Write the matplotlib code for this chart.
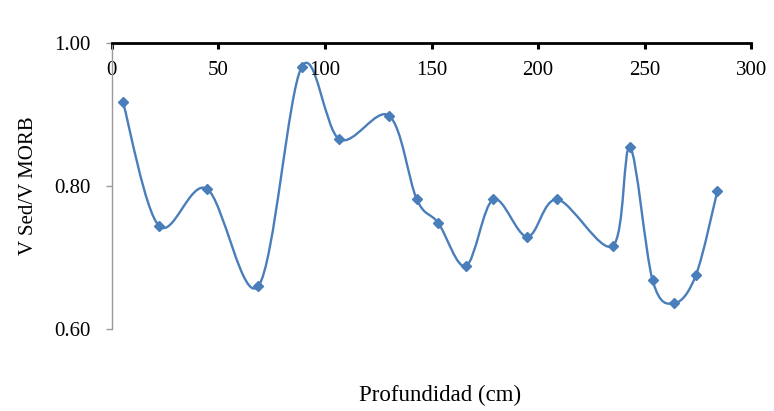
import matplotlib
matplotlib.use("Agg")
import matplotlib.pyplot as plt
import numpy as np
from matplotlib.path import Path
from matplotlib.patches import PathPatch

plt.rcParams['font.family'] = ['Liberation Serif', 'DejaVu Serif']

# Depth (cm) and V Sed / V MORB ratio
profundidad = [5.3, 22.2, 44.6, 68.8, 89.1, 106.8, 130.1, 143.1, 153.2, 166.2,
               179.0, 194.9, 209.0, 235.0, 243.1, 253.7, 263.9, 274.1, 284.1]
v_ratio = [0.917, 0.744, 0.796, 0.660, 0.966, 0.865, 0.898, 0.781, 0.748, 0.688,
           0.781, 0.729, 0.781, 0.716, 0.854, 0.668, 0.636, 0.676, 0.793]

x_ticks = [0, 50, 100, 150, 200, 250, 300]
y_ticks = [0.60, 0.80, 1.00]
color = '#4A7EBB'


def smooth_path(xs, ys):
    """Cubic Bezier path through the points (Catmull-Rom style smoothing)."""
    pts = np.column_stack([xs, ys])
    n = len(pts)
    verts = [pts[0]]
    codes = [Path.MOVETO]
    for i in range(n - 1):
        p0 = pts[i - 1] if i > 0 else pts[i]
        p1 = pts[i]
        p2 = pts[i + 1]
        p3 = pts[i + 2] if i + 2 < n else pts[i + 1]
        c1 = p1 + (p2 - p0) / 6.0
        c2 = p2 - (p3 - p1) / 6.0
        verts += [c1, c2, p2]
        codes += [Path.CURVE4] * 3
    return Path(verts, codes)


fig = plt.figure(figsize=(7.74, 4.11), dpi=100)
ax = fig.add_axes([0.1443, 0.1995, 0.8264, 0.6966])

ax.add_patch(PathPatch(smooth_path(profundidad, v_ratio), fill=False,
                       edgecolor=color, linewidth=1.7, capstyle='round'))
ax.plot(profundidad, v_ratio, linestyle='none', marker='D', markersize=4.6,
        color=color)

ax.set_xlim(0, 300)
ax.set_ylim(0.60, 1.00)
ax.set_xticks(x_ticks)
ax.set_xticklabels([str(t) for t in x_ticks])
ax.set_yticks(y_ticks)
ax.set_yticklabels([f"{t:.2f}" for t in y_ticks])

# Horizontal axis drawn along the top edge (y = 1.00), labels underneath
ax.spines['bottom'].set_position(('data', 1.00))
ax.spines['bottom'].set_linewidth(2.0)
ax.spines['bottom'].set_color('black')
ax.spines['top'].set_visible(False)
ax.spines['right'].set_visible(False)
ax.spines['left'].set_color('#9a9a9a')
ax.spines['left'].set_linewidth(1.0)

ax.tick_params(axis='x', direction='out', length=4, width=2.2, color='black',
               pad=9, labelsize=15)
ax.tick_params(axis='y', direction='out', length=4, width=1.0, color='#9a9a9a',
               pad=11, labelsize=15)

ax.set_ylabel('V Sed/V MORB', fontsize=15)
ax.yaxis.set_label_coords(-0.115, 0.5)
ax.set_xlabel('Profundidad (cm)', fontsize=16.5)
ax.xaxis.set_label_coords(0.513, -0.195)

fig.savefig('out.png', dpi=100)
